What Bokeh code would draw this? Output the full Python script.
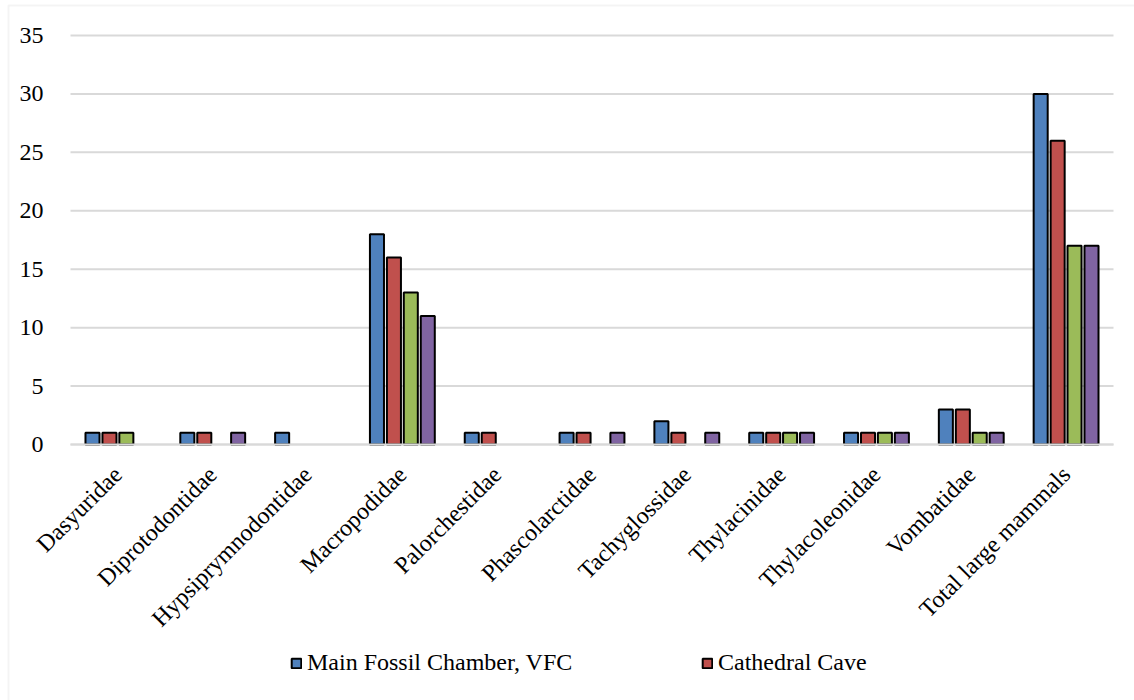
import math
from bokeh.plotting import figure
from bokeh.models import (ColumnDataSource, FixedTicker, Legend, LegendItem,
                          BoxAnnotation)
from bokeh.transform import dodge
from bokeh.embed import file_html
from bokeh.resources import INLINE

families = ["Dasyuridae", "Diprotodontidae", "Hypsiprymnodontidae",
            "Macropodidae", "Palorchestidae", "Phascolarctidae",
            "Tachyglossidae", "Thylacinidae", "Thylacoleonidae",
            "Vombatidae", "Total large mammals"]

series_names = ["Main Fossil Chamber, VFC", "Cathedral Cave",
                "Series 3", "Series 4"]

main_fossil_chamber = [1, 1, 1, 18, 1, 1, 2, 1, 1, 3, 30]
cathedral_cave      = [1, 1, 0, 16, 1, 1, 1, 1, 1, 3, 26]
series_three        = [1, 0, 0, 13, 0, 0, 0, 1, 1, 1, 17]
series_four         = [0, 1, 0, 11, 0, 1, 1, 1, 1, 1, 17]

y_ticks = [0, 5, 10, 15, 20, 25, 30, 35]

colors = ["#4F81BD", "#C0504D", "#9BBB59", "#8064A2"]
offsets = [-0.268, -0.089, 0.089, 0.268]
FONT = "Liberation Serif"
FS = "24px"
GRID = "#D9D9D9"

# canvas size and the pixel box that holds the bars
W, H = 1134, 700
box_left, box_right, box_top, box_bottom = 70, 1113, 35, 444
ymax = y_ticks[-1]
n = len(families)
ux = (box_right - box_left) / n
uy = (box_bottom - box_top) / ymax

# categories sit at x = 1..n; the frame covers the whole canvas so the
# legend and the outer border can be drawn inside it
x_start = 0.5 - box_left / ux
x_end = n + 0.5 + (W - box_right) / ux
y_start = -(H - box_bottom) / uy
y_end = ymax + box_top / uy

p = figure(width=W, height=H, x_range=(x_start, x_end), y_range=(y_start, y_end),
           output_backend="svg", toolbar_location=None,
           min_border_left=0, min_border_right=0, min_border_top=0,
           min_border_bottom=0, outline_line_color=None)
p.xgrid.visible = False
p.ygrid.visible = False

# outer chart-area border (only its left and top edges fall on the canvas)
p.add_layout(BoxAnnotation(left=x_start + 8 / ux, right=x_end + 1,
                           top=y_end - 5 / uy, bottom=y_start - 1,
                           fill_alpha=0, line_color=GRID, line_width=2,
                           level="underlay"))

# horizontal gridlines across the category area
p.segment(x0=0.5, x1=n + 0.5, y0=y_ticks, y1=y_ticks,
          line_color=GRID, line_width=2, level="underlay")

positions = list(range(1, n + 1))
renderers = []
for vals, col, off in zip([main_fossil_chamber, cathedral_cave,
                           series_three, series_four], colors, offsets):
    xs = [x for x, v in zip(positions, vals) if v > 0]
    tops = [v for v in vals if v > 0]
    src = ColumnDataSource(dict(x=xs, top=tops))
    r = p.vbar(x=dodge("x", off), top="top", bottom=0, width=0.148,
               source=src, fill_color=col, line_color="#000000", line_width=2)
    renderers.append(r)

p.yaxis.fixed_location = 0.5
p.yaxis.bounds = (0, ymax)
p.yaxis.ticker = FixedTicker(ticks=y_ticks)
p.yaxis.axis_line_color = None
p.yaxis.major_tick_line_color = None
p.yaxis.minor_tick_line_color = None
p.yaxis.major_label_standoff = 21
p.yaxis.major_label_text_font = FONT
p.yaxis.major_label_text_font_size = FS
p.yaxis.major_label_text_color = "#000000"

p.xaxis.fixed_location = 0
p.xaxis.bounds = (0.5, n + 0.5)
p.xaxis.ticker = FixedTicker(ticks=positions)
p.xaxis.major_label_overrides = {x: name for x, name in zip(positions, families)}
p.xaxis.axis_line_color = GRID
p.xaxis.axis_line_width = 2
p.xaxis.major_tick_line_color = None
p.xaxis.minor_tick_line_color = None
p.xaxis.major_label_orientation = math.pi / 4
p.xaxis.major_label_standoff = 20
p.xaxis.major_label_text_font = FONT
p.xaxis.major_label_text_font_size = FS
p.xaxis.major_label_text_color = "#000000"

legend = Legend(items=[LegendItem(label=series_names[i], renderers=[renderers[i]])
                       for i in range(2)],
                orientation="horizontal", location=(290, 24),
                glyph_width=12, glyph_height=12, label_standoff=5,
                label_width=394, spacing=0, padding=0, margin=0,
                border_line_color=None, background_fill_alpha=0,
                label_text_font=FONT, label_text_font_size=FS,
                label_text_color="#000000")
p.add_layout(legend, "center")

open("out.html", "w").write(file_html(p, INLINE))
